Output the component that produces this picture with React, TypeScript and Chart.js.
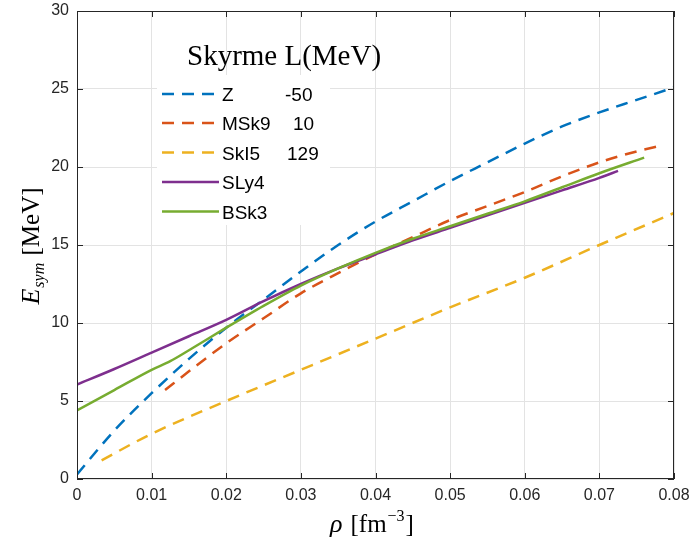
import React, { useEffect, useRef } from "react";
import { Chart, registerables } from "chart.js";

Chart.register(...registerables);

// ---- data ----
const seriesNames = ["Z", "MSk9", "SkI5", "SLy4", "BSk3"];
const seriesL = ["-50", "10", "129", "", ""];

const zRho = [0, 0.005, 0.01, 0.015, 0.02, 0.025, 0.03, 0.035, 0.04, 0.045, 0.05, 0.055, 0.06, 0.065, 0.07, 0.075, 0.08];
const zE = [0.3, 3.1, 5.5, 7.7, 9.7, 11.5, 13.3, 15.0, 16.5, 17.8, 19.1, 20.3, 21.5, 22.6, 23.5, 24.3, 25.1];

const msk9Rho = [0.0118, 0.015, 0.02, 0.025, 0.03, 0.035, 0.04, 0.045, 0.05, 0.055, 0.06, 0.065, 0.07, 0.075, 0.0785];
const msk9E = [5.7, 6.9, 8.7, 10.3, 11.9, 13.2, 14.4, 15.5, 16.6, 17.5, 18.4, 19.4, 20.3, 21.0, 21.4];

const ski5Rho = [0.0033, 0.01, 0.02, 0.03, 0.04, 0.05, 0.06, 0.07, 0.08];
const ski5E = [1.2, 2.9, 5.0, 7.0, 9.0, 11.0, 12.9, 15.0, 17.05];

const sly4Rho = [0, 0.005, 0.01, 0.015, 0.02, 0.025, 0.03, 0.035, 0.04, 0.045, 0.05, 0.055, 0.06, 0.065, 0.07, 0.0725];
const sly4E = [6.05, 7.05, 8.1, 9.15, 10.2, 11.4, 12.5, 13.5, 14.4, 15.3, 16.1, 16.9, 17.7, 18.5, 19.3, 19.75];

const bsk3Rho = [0, 0.005, 0.01, 0.0125, 0.015, 0.02, 0.025, 0.03, 0.035, 0.04, 0.045, 0.05, 0.055, 0.06, 0.065, 0.07, 0.076];
const bsk3E = [4.4, 5.7, 7.0, 7.55, 8.25, 9.7, 11.1, 12.4, 13.5, 14.5, 15.4, 16.2, 17.0, 17.8, 18.7, 19.6, 20.6];

const xTicks = [0, 0.01, 0.02, 0.03, 0.04, 0.05, 0.06, 0.07, 0.08];
const yTicks = [0, 5, 10, 15, 20, 25, 30];

const colors = ["#0072BD", "#D95319", "#EDB120", "#7E2F8E", "#77AC30"];
const dashed = [true, true, true, false, false];

const toPts = (xs: number[], ys: number[]) => xs.map((x, i) => ({ x, y: ys[i] }));

const overlayPlugin = {
  id: "matlabOverlay",
  beforeDatasetsDraw(chart: any) {
    const ctx = chart.ctx;
    ctx.save();
    ctx.fillStyle = "#ffffff";
    ctx.fillRect(157, 75, 173, 150);
    ctx.restore();
  },
  afterDraw(chart: any) {
    const ctx = chart.ctx;
    const { left, right, top, bottom } = chart.chartArea;
    const xs = chart.scales.x;
    const ys = chart.scales.y;
    ctx.save();
    // box
    ctx.strokeStyle = "#262626";
    ctx.lineWidth = 1;
    ctx.strokeRect(Math.round(left) + 0.5, Math.round(top) + 0.5, Math.round(right - left) - 1, Math.round(bottom - top) - 1);
    // inside ticks
    const tl = 6;
    ctx.beginPath();
    xTicks.forEach((v) => {
      const px = Math.round(xs.getPixelForValue(v)) + 0.5;
      ctx.moveTo(px, bottom);
      ctx.lineTo(px, bottom - tl);
      ctx.moveTo(px, top);
      ctx.lineTo(px, top + tl);
    });
    yTicks.forEach((v) => {
      const py = Math.round(ys.getPixelForValue(v)) + 0.5;
      ctx.moveTo(left, py);
      ctx.lineTo(left + tl, py);
      ctx.moveTo(right, py);
      ctx.lineTo(right - tl, py);
    });
    ctx.stroke();

    // legend title
    ctx.fillStyle = "#000000";
    ctx.textBaseline = "alphabetic";
    ctx.textAlign = "left";
    ctx.font = '29px "Liberation Serif"';
    ctx.fillText("Skyrme L(MeV)", 187, 65);

    // legend items
    const rowY = [96, 125, 154.5, 184, 213.5];
    const valX = [285, 293, 287, 0, 0];
    ctx.font = '19px "Liberation Sans"';
    ctx.textBaseline = "middle";
    seriesNames.forEach((name, i) => {
      const y = rowY[i] - 2;
      ctx.strokeStyle = colors[i];
      ctx.lineWidth = 2.5;
      ctx.setLineDash(dashed[i] ? [12, 8] : []);
      ctx.beginPath();
      ctx.moveTo(162, y);
      ctx.lineTo(219, y);
      ctx.stroke();
      ctx.setLineDash([]);
      ctx.fillStyle = "#000000";
      ctx.fillText(name, 222, rowY[i]);
      if (seriesL[i]) ctx.fillText(seriesL[i], valX[i], rowY[i]);
    });

    // x axis title: rho [fm^-3]
    ctx.textBaseline = "alphabetic";
    const xb = 532;
    let cx = 330;
    ctx.font = 'italic 26px "Liberation Serif"';
    ctx.fillText("ρ", cx, xb);
    cx += ctx.measureText("ρ").width + 8;
    ctx.font = '25px "Liberation Serif"';
    ctx.fillText("[fm", cx, xb);
    cx += ctx.measureText("[fm").width + 1;
    ctx.font = '16px "Liberation Serif"';
    ctx.fillText("−3", cx, xb - 11);
    cx += ctx.measureText("−3").width + 1;
    ctx.font = '25px "Liberation Serif"';
    ctx.fillText("]", cx, xb);

    // y axis title: E_sym [MeV]
    ctx.translate(39, 246);
    ctx.rotate(-Math.PI / 2);
    ctx.font = 'italic 26px "Liberation Serif"';
    const wE = ctx.measureText("E").width;
    ctx.font = 'italic 16px "Liberation Serif"';
    const wS = ctx.measureText("sym").width;
    ctx.font = '25px "Liberation Serif"';
    const wM = ctx.measureText(" [MeV]").width;
    let sx = -(wE + wS + wM + 2) / 2;
    ctx.font = 'italic 26px "Liberation Serif"';
    ctx.fillText("E", sx, 0);
    sx += wE + 1;
    ctx.font = 'italic 16px "Liberation Serif"';
    ctx.fillText("sym", sx, 5);
    sx += wS + 1;
    ctx.font = '25px "Liberation Serif"';
    ctx.fillText(" [MeV]", sx, 0);
    ctx.restore();
  },
};

export default function App() {
  const ref = useRef<HTMLCanvasElement | null>(null);
  useEffect(() => {
    document.body.style.margin = "0";
    const xsData = [zRho, msk9Rho, ski5Rho, sly4Rho, bsk3Rho];
    const ysData = [zE, msk9E, ski5E, sly4E, bsk3E];
    const chart = new Chart(ref.current as HTMLCanvasElement, {
      type: "line",
      data: {
        datasets: seriesNames.map((name, i) => ({
          label: name,
          data: toPts(xsData[i], ysData[i]),
          borderColor: colors[i],
          backgroundColor: colors[i],
          borderWidth: 2.5,
          borderDash: dashed[i] ? [12, 8] : [],
          pointRadius: 0,
          cubicInterpolationMode: "monotone" as const,
          fill: false,
          order: 5 - i,
        })),
      },
      options: {
        animation: false,
        responsive: true,
        maintainAspectRatio: false,
        layout: { padding: { top: 11, right: 20, left: 0, bottom: 0 } },
        plugins: { legend: { display: false }, tooltip: { enabled: false } },
        scales: {
          x: {
            type: "linear",
            min: 0,
            max: 0.08,
            afterFit: (s: any) => {
              s.height = 68;
              s.paddingLeft = 0;
              s.paddingRight = 0;
            },
            afterBuildTicks: (s: any) => {
              s.ticks = xTicks.map((v) => ({ value: v }));
            },
            grid: { color: "#e3e3e3", drawTicks: false, lineWidth: 1 },
            border: { display: false },
            ticks: {
              padding: 7,
              color: "#262626",
              font: { family: "Liberation Sans", size: 16 },
              maxRotation: 0,
              callback: (v: any) => String(Number(Number(v).toFixed(2))),
            },
          },
          y: {
            min: 0,
            max: 30,
            afterFit: (s: any) => {
              s.width = 77;
              s.paddingTop = 0;
              s.paddingBottom = 0;
            },
            afterBuildTicks: (s: any) => {
              s.ticks = yTicks.map((v) => ({ value: v }));
            },
            grid: { color: "#e3e3e3", drawTicks: false, lineWidth: 1 },
            border: { display: false },
            ticks: {
              padding: 8,
              color: "#262626",
              font: { family: "Liberation Sans", size: 16 },
              callback: (v: any) => String(v),
            },
          },
        },
      },
      plugins: [overlayPlugin],
    });
    return () => chart.destroy();
  }, []);
  return (
    <div style={{ width: 694, height: 547, position: "relative" }}>
      <canvas ref={ref} />
    </div>
  );
}
